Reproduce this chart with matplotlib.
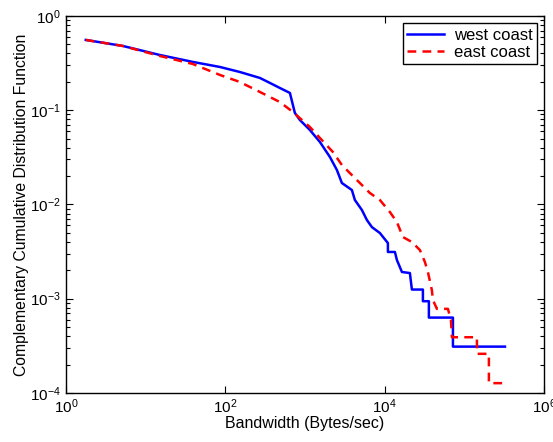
import matplotlib
matplotlib.use("Agg")
import matplotlib.pyplot as plt
from matplotlib.ticker import LogLocator, NullLocator

plt.rcParams['font.family'] = ['Liberation Sans', 'DejaVu Sans']
plt.rcParams['mathtext.fontset'] = 'custom'
plt.rcParams['mathtext.rm'] = 'Liberation Sans'
plt.rcParams['mathtext.it'] = 'Liberation Sans:italic'

# CCDF of measured bandwidth, west coast hosts
west_bw = [1.78, 5.19, 15.1, 39.2, 85.5, 152, 272, 363, 484, 647, 747, 863, 1152,
           1538, 2052, 2513, 2904, 3875, 4226, 5174, 5981, 6906, 8703, 10970,
           10970, 13430, 14230, 16440, 20700, 21930, 30140, 30140, 35810, 35810,
           71770, 71770, 322300]
west_ccdf = [0.556, 0.480, 0.385, 0.325, 0.2874, 0.2543, 0.2197, 0.1945, 0.172,
             0.1523, 0.0934, 0.0787, 0.0616, 0.0460, 0.0319, 0.0232, 0.01687,
             0.01422, 0.01114, 0.00873, 0.00683, 0.00575, 0.00497, 0.00389,
             0.00313, 0.00313, 0.00257, 0.00192, 0.00187, 0.00125, 0.00125,
             0.00094, 0.00094, 0.00063, 0.00063, 0.00031, 0.00031]

# CCDF of measured bandwidth, east coast hosts
east_bw = [1.78, 5.19, 15.1, 39.2, 85.5, 152, 272, 484, 705, 1152, 1538, 2239,
           2904, 3659, 4883, 6520, 8703, 11620, 14230, 16910, 21930, 27650,
           31930, 34830, 39060, 40240, 45150, 62070, 67760, 69710, 143500,
           143500, 202700, 202700, 351300]
east_ccdf = [0.556, 0.480, 0.376, 0.309, 0.2366, 0.1993, 0.156, 0.122, 0.0957,
             0.0663, 0.0507, 0.0360, 0.0262, 0.0215, 0.01687, 0.01321, 0.01114,
             0.00830, 0.00650, 0.00451, 0.00399, 0.00328, 0.00245, 0.00192,
             0.00123, 0.00097, 0.00078, 0.00078, 0.00059, 0.00039, 0.00039,
             0.00026, 0.00026, 0.000127, 0.000127]

fig = plt.figure(figsize=(5.53, 4.42), dpi=100)
ax = fig.add_axes([0.119, 0.111, 0.865, 0.853])

ax.loglog(west_bw, west_ccdf, color='#0000ff', lw=1.8, label='west coast')
ax.loglog(east_bw, east_ccdf, color='#ff0000', lw=1.8, ls=(0, (3.5, 2.5)),
          label='east coast')

ax.set_xlim(1, 1e6)
ax.set_ylim(1e-4, 1)
ax.xaxis.set_major_locator(LogLocator(base=100))
ax.xaxis.set_minor_locator(NullLocator())
ax.yaxis.set_major_locator(LogLocator(base=10))
ax.yaxis.set_minor_locator(LogLocator(base=10, subs=range(2, 10)))

ax.tick_params(which='both', direction='in', top=True, right=True,
               labelsize=11, width=0.8)
ax.tick_params(which='major', length=5)
ax.tick_params(which='minor', length=3)
for s in ax.spines.values():
    s.set_linewidth(1.0)

ax.set_xlabel('Bandwidth (Bytes/sec)', fontsize=11.5, labelpad=0)
ax.set_ylabel('Complementary Cumulative Distribution Function', fontsize=11.3,
              labelpad=1)

leg = ax.legend(loc='upper right', fontsize=12, fancybox=False,
                edgecolor='black', framealpha=1, borderaxespad=0.45,
                handlelength=2.2, handletextpad=0.6, borderpad=0.25,
                labelspacing=0.15)
leg.get_frame().set_linewidth(1.0)

fig.savefig('out.png', dpi=100)
